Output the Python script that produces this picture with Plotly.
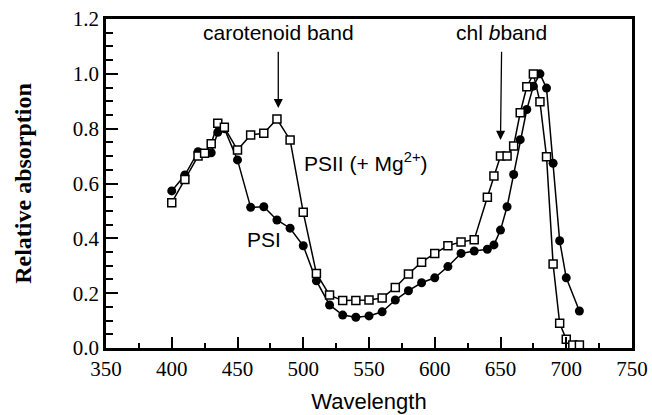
import plotly.graph_objects as go

# PSII (+Mg2+) open squares
psii_x = [400, 410, 420, 425, 430, 435, 440, 450, 460, 470, 480, 490, 500, 510, 520, 530, 540,
          550, 560, 570, 580, 590, 600, 610, 620, 630, 640, 645, 650, 655, 660, 665, 670, 675,
          680, 685, 690, 695, 700, 705, 710]
psii_y = [0.53, 0.615, 0.70, 0.71, 0.745, 0.82, 0.805, 0.722, 0.777, 0.783, 0.835, 0.759, 0.495,
          0.272, 0.193, 0.173, 0.173, 0.175, 0.182, 0.221, 0.27, 0.313, 0.345, 0.373, 0.387, 0.395,
          0.55, 0.627, 0.70, 0.70, 0.737, 0.858, 0.953, 0.999, 0.898, 0.698, 0.306, 0.09, 0.032,
          0.011, 0.011]

# PSI filled circles
psi_x = [400, 410, 420, 430, 435, 440, 450, 460, 470, 480, 490, 500, 510, 520, 530, 540, 550,
         560, 570, 580, 590, 600, 610, 620, 630, 640, 645, 650, 655, 660, 665, 670, 675, 680,
         685, 690, 695, 700, 710]
psi_y = [0.573, 0.631, 0.716, 0.712, 0.787, 0.80, 0.686, 0.513, 0.515, 0.467, 0.437, 0.373,
         0.245, 0.157, 0.12, 0.112, 0.117, 0.132, 0.175, 0.209, 0.238, 0.256, 0.297, 0.345,
         0.354, 0.36, 0.376, 0.43, 0.515, 0.633, 0.76, 0.87, 0.955, 1.0, 0.948, 0.674, 0.391,
         0.256, 0.135]

fig = go.Figure()
fig.add_trace(go.Scatter(
    x=psi_x, y=psi_y, mode="lines+markers",
    line=dict(color="black", width=1.5),
    marker=dict(symbol="circle", size=9, color="black"),
    showlegend=False))
fig.add_trace(go.Scatter(
    x=psii_x, y=psii_y, mode="lines+markers",
    line=dict(color="black", width=1.5),
    marker=dict(symbol="square", size=8, color="white", line=dict(color="black", width=1.5)),
    showlegend=False))

sans = "Liberation Sans, Arial, sans-serif"
serif = "Liberation Serif, Times New Roman, serif"

fig.update_layout(
    width=652, height=415,
    margin=dict(l=106, r=20, t=19, b=67),
    paper_bgcolor="white", plot_bgcolor="white",
    xaxis=dict(
        range=[350, 750], dtick=50, tick0=350, automargin=False,
        showgrid=False, zeroline=False,
        showline=True, linecolor="black", linewidth=2.5, mirror=True,
        ticks="inside", ticklen=11, tickwidth=1.5, tickcolor="black",
        minor=dict(dtick=25, ticks="inside", ticklen=5, tickwidth=1.5, tickcolor="black"),
        tickfont=dict(family=serif, size=21, color="black"),
        title=dict(text="Wavelength", font=dict(family=sans, size=22, color="black"), standoff=14),
    ),
    yaxis=dict(
        range=[0, 1.2], dtick=0.2, tickformat=".1f", automargin=False,
        showgrid=False, zeroline=False,
        showline=True, linecolor="black", linewidth=2.5, mirror=True,
        ticks="inside", ticklen=12, tickwidth=1.5, tickcolor="black",
        minor=dict(dtick=0.05, ticks="inside", ticklen=7, tickwidth=1.5, tickcolor="black"),
        tickfont=dict(family=serif, size=21, color="black"),
        title=dict(text="<b>Relative absorption</b>", font=dict(family=serif, size=24, color="black"), standoff=35),
    ),
    annotations=[
        dict(x=481, y=0.875, ax=481, ay=1.15, xref="x", yref="y", axref="x", ayref="y",
             text="carotenoid band", font=dict(family=sans, size=21, color="black"),
             showarrow=True, arrowhead=2, arrowsize=1.4, arrowwidth=1.3, arrowcolor="black",
             startstandoff=6),
        dict(x=650, y=0.759, ax=651, ay=1.15, xref="x", yref="y", axref="x", ayref="y",
             text="chl <i>b</i>band", font=dict(family=sans, size=21, color="black"),
             showarrow=True, arrowhead=2, arrowsize=1.4, arrowwidth=1.3, arrowcolor="black",
             startstandoff=6),
        dict(x=499, y=0.68, xref="x", yref="y", xanchor="left", text="PSII (+ Mg<sup>2+</sup>)",
             showarrow=False, font=dict(family=sans, size=21, color="black")),
        dict(x=470, y=0.394, xref="x", yref="y", text="PSI", showarrow=False,
             font=dict(family=sans, size=21, color="black")),
    ],
)

fig.write_html("out.html")
